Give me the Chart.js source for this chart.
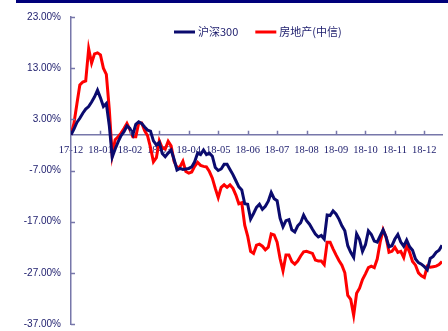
<!DOCTYPE html>
<html>
<head>
<meta charset="utf-8">
<script src="https://cdn.jsdelivr.net/npm/chart.js@4.4.0/dist/chart.umd.min.js"></script>
<style>
  body { margin: 0; background: #fff; }
  #wrap { position: relative; width: 448px; height: 331px; }
  #topline { position: absolute; left: 16px; top: 0; width: 432px; height: 2.5px; background: #00007a; }
</style>
</head>
<body>
<div id="wrap">
  <div id="topline"></div>
  <canvas id="myChart" width="448" height="331"></canvas>
</div>
<script>
// x tick labels, one every 10 samples (each sample ~ 2 trading days)
const tickLabels = ['17-12', '18-01', '18-02', '18-03', '18-04', '18-05', '18-06',
  '18-07', '18-08', '18-09', '18-10', '18-11', '18-12'];
const yTickValues = [-37, -27, -17, -7, 3, 13, 23];
const seriesNames = ['沪深300', '房地产(中信)'];

// cumulative return, %
const hs300 = [
  0, 1.1, 2.4, 3.2, 4.2, 5.0, 5.5, 6.4, 7.4, 8.7,
  7.2, 5.5, 6.1, 1.8, -4.4, -2.8, -1.4, -0.2, 0.6, 1.7,
  1.2, 0.0, 2.0, 2.5, 2.2, 1.5, 0.9, 0.7, -1.2, -2.0,
  -1.5, -3.7, -4.3, -3.6, -3.0, -4.8, -6.9, -6.6, -6.8, -6.7,
  -6.6, -6.3, -5.3, -3.6, -3.9, -3.0, -3.9, -3.6, -4.2, -6.4,
  -7.0, -6.7, -5.8, -5.8, -6.8, -7.8, -9.0, -10.2, -10.8, -13.5,
  -13.6, -16.5, -15.4, -14.2, -13.6, -14.6, -14.0, -13.0, -11.3, -12.5,
  -12.9, -16.3, -18.0, -16.8, -16.6, -18.6, -19.0, -17.8, -17.2, -15.7,
  -16.8, -17.5, -18.5, -19.4, -20.0, -19.7, -20.4, -15.7, -15.8, -14.9,
  -15.5, -16.5, -17.8, -18.8, -21.7, -23.0, -24.0, -19.4, -20.5, -22.8,
  -21.5, -18.8, -19.5, -20.8, -21.0, -19.8, -18.6, -20.0, -21.9, -21.7,
  -20.4, -19.5, -21.0, -21.8, -20.6, -21.9, -22.6, -24.3, -25.0, -25.3,
  -25.8, -26.4, -24.2, -23.8, -23.0, -22.6, -21.6
];
const realEstate = [
  0, 2.2, 6.0, 9.7, 10.3, 10.5, 16.8, 14.0, 15.8, 16.0,
  15.6, 13.0, 11.8, 5.0, -4.0, -1.0, -0.4, 0.3, 1.2, 2.2,
  1.0, -0.4, -0.4, 2.3, 2.3, 0.8, -0.2, -2.5, -5.3, -4.5,
  -1.2, -2.6, -2.8, -1.3, -2.2, -5.2, -6.4, -6.3, -5.2, -7.2,
  -7.5, -7.3, -6.2, -5.4, -6.0, -6.2, -6.3, -7.2, -8.5, -10.5,
  -12.3, -10.3, -9.8, -10.3, -9.8, -10.5, -11.8, -13.5, -13.3, -17.7,
  -19.8, -22.8, -23.2, -21.6, -21.4, -21.8, -22.5, -22.0, -19.4, -19.6,
  -21.0, -24.2, -26.6, -23.5, -23.5, -24.8, -25.3, -24.7, -23.7, -22.9,
  -22.8, -23.0, -23.2, -24.5, -24.7, -24.7, -25.4, -21.0, -21.0, -22.3,
  -23.5, -24.6, -25.5, -27.0, -31.4, -32.2, -35.3, -31.0, -30.0, -28.3,
  -27.2, -26.0, -25.7, -26.0, -24.3, -21.0, -18.6, -20.0, -23.0, -22.8,
  -22.0, -23.0, -22.8, -24.0, -21.6, -23.0, -24.8, -25.5, -27.0, -27.6,
  -27.9, -25.7, -25.9, -25.8, -25.7, -25.4, -24.8
];

const axisColor = '#7777aa';
const textColor = '#1c1c6c';
const blue = '#0b0b6e';
const red = '#ff0000';

const toPoints = arr => arr.map((v, i) => ({ x: i, y: v }));

// small inward tick marks on both axes
const axisTicks = {
  id: 'axisTicks',
  afterDraw(chart) {
    const { ctx, scales: { x, y } } = chart;
    ctx.save();
    ctx.strokeStyle = axisColor;
    ctx.lineWidth = 1.5;
    ctx.beginPath();
    y.ticks.forEach(t => {
      const py = Math.round(y.getPixelForValue(t.value)) + 0.5;
      ctx.moveTo(x.left, py);
      ctx.lineTo(x.left + 4, py);
    });
    const y0 = y.getPixelForValue(0);
    x.ticks.forEach(t => {
      if (t.value === 0) return;
      const px = Math.round(x.getPixelForValue(t.value)) + 0.5;
      ctx.moveTo(px, y0);
      ctx.lineTo(px, y0 - 4);
    });
    ctx.stroke();
    ctx.restore();
  }
};

// legend drawn inside the plot, near the top
const lineLegend = {
  id: 'lineLegend',
  afterDraw(chart) {
    const { ctx, chartArea } = chart;
    ctx.save();
    ctx.font = '11px "Noto Sans CJK SC", sans-serif';
    ctx.textBaseline = 'middle';
    let lx = chartArea.left + 103;
    const ly = 32;
    chart.data.datasets.forEach(ds => {
      ctx.strokeStyle = ds.borderColor;
      ctx.lineWidth = 3;
      ctx.beginPath();
      ctx.moveTo(lx, ly);
      ctx.lineTo(lx + 21, ly);
      ctx.stroke();
      lx += 24;
      ctx.fillStyle = textColor;
      ctx.fillText(ds.label, lx, ly);
      lx += ctx.measureText(ds.label).width + 17;
    });
    ctx.restore();
  }
};

new Chart(document.getElementById('myChart'), {
  type: 'line',
  data: {
    datasets: [
      {
        label: seriesNames[0],
        data: toPoints(hs300),
        borderColor: blue,
        backgroundColor: blue,
        borderWidth: 3
      }, {
        label: seriesNames[1],
        data: toPoints(realEstate),
        borderColor: red,
        backgroundColor: red,
        borderWidth: 3
      }]
  },
  options: {
    responsive: false,
    animation: false,
    elements: { point: { radius: 0 }, line: { tension: 0 } },
    layout: { padding: { top: 17, right: 6, bottom: 7, left: 0 } },
    plugins: {
      legend: { display: false },
      tooltip: { enabled: false }
    },
    scales: {
      x: {
        type: 'linear',
        min: 0,
        max: hs300.length - 1,
        position: { y: 0 },
        afterBuildTicks: s => { s.ticks = tickLabels.map((_, k) => ({ value: k * 10 })); },
        grid: { drawOnChartArea: false, drawTicks: false },
        border: { color: axisColor, width: 1.5 },
        ticks: {
          autoSkip: false,
          maxRotation: 0,
          padding: 9,
          color: textColor,
          font: { family: '"Liberation Serif", serif', size: 10.5 },
          callback: v => tickLabels[v / 10]
        }
      },
      y: {
        min: -37,
        max: 23,
        afterBuildTicks: s => { s.ticks = yTickValues.map(v => ({ value: v })); },
        afterFit: s => { s.width = 71; s.paddingTop = 0; s.paddingBottom = 0; },
        grid: { drawOnChartArea: false, drawTicks: false },
        border: { color: axisColor, width: 1.5 },
        ticks: {
          padding: 10,
          color: textColor,
          font: { family: '"Liberation Sans", sans-serif', size: 10 },
          callback: v => v.toFixed(2) + '%'
        }
      }
    }
  },
  plugins: [axisTicks, lineLegend]
});
</script>
</body>
</html>
